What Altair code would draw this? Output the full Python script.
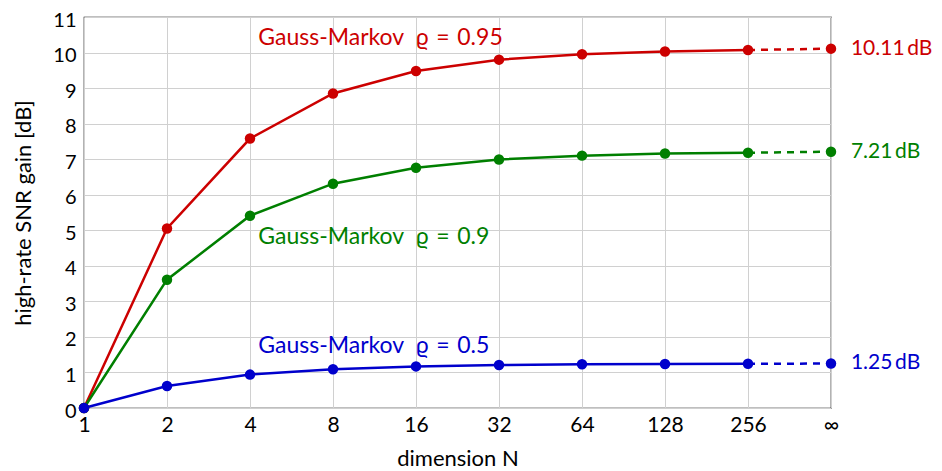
import json
import altair as alt
import pandas as pd

# ---- data ----
x_labels = ["1", "2", "4", "8", "16", "32", "64", "128", "256", "∞"]
series_names = ["rho095", "rho09", "rho05"]
series_colors = ["#cc0000", "#007f00", "#0000cc"]
gain_095 = [0.0, 5.05, 7.58, 8.85, 9.48, 9.80, 9.95, 10.03, 10.07, 10.11]
gain_09 = [0.0, 3.61, 5.41, 6.31, 6.76, 6.99, 7.10, 7.16, 7.18, 7.21]
gain_05 = [0.0, 0.62, 0.94, 1.09, 1.17, 1.21, 1.23, 1.24, 1.245, 1.25]

curve_labels = [
    "Gauss-Markov\u2002ϱ\u2004=\u20040.95",
    "Gauss-Markov\u2002ϱ\u2004=\u20040.9",
    "Gauss-Markov\u2002ϱ\u2004=\u20040.5",
]
curve_label_x = [2.1, 2.1, 2.1]
curve_label_y = [10.4, 4.82, 1.74]

end_labels = ["10.11\u2009dB", "7.21\u2009dB", "1.25\u2009dB"]
end_label_x = [9.24, 9.24, 9.24]
end_label_y = [10.11, 7.21, 1.27]

# ---- tables ----
rows = []
for name, vals in zip(series_names, [gain_095, gain_09, gain_05]):
    for i, v in enumerate(vals):
        rows.append({"series": name, "idx": i, "gain": v})
df = pd.DataFrame(rows)
n_last = len(x_labels) - 1

ann_curve = pd.DataFrame({
    "series": series_names,
    "text": curve_labels,
    "idx": curve_label_x,
    "gain": curve_label_y,
})
ann_end = pd.DataFrame({
    "series": series_names,
    "text": end_labels,
    "idx": end_label_x,
    "gain": end_label_y,
})

FONT = "Lato"
label_expr = json.dumps(x_labels) + "[datum.value]"

color = alt.Color("series:N", scale=alt.Scale(domain=series_names, range=series_colors), legend=None)

axis_style = dict(
    labelFont=FONT,
    titleFont=FONT,
    labelFontSize=21,
    titleFontSize=22,
    titleFontWeight="normal",
    labelColor="black",
    titleColor="black",
    gridColor="#d0d0d0",
    gridWidth=1,
    domain=False,
    ticks=False,
    grid=True,
    labelOverlap=False,
    labelBound=False,
    labelFlush=False,
)

x_enc = alt.X(
    "idx:Q",
    scale=alt.Scale(domain=[0, n_last], nice=False, zero=False),
    axis=alt.Axis(
        values=list(range(len(x_labels))),
        labelExpr=label_expr,
        title="dimension  N",
        labelPadding=6,
        titlePadding=13,
        **axis_style,
    ),
)
y_axis_style = dict(axis_style, labelFontSize=20)
y_enc = alt.Y(
    "gain:Q",
    scale=alt.Scale(domain=[0, 11], nice=False),
    axis=alt.Axis(
        values=list(range(12)),
        tickCount=12,
        title="high-rate SNR gain  [dB]",
        labelPadding=8,
        labelOffset=3,
        titlePadding=17,
        **y_axis_style,
    ),
)

base = alt.Chart(df)

solid = base.transform_filter(alt.datum.idx <= n_last - 1).mark_line(strokeWidth=2.5).encode(
    x=x_enc, y=y_enc, color=color, detail="series:N"
)
dashed = base.transform_filter(alt.datum.idx >= n_last - 1).mark_line(
    strokeWidth=2.5, strokeDash=[7, 6]
).encode(x=x_enc, y=y_enc, color=color, detail="series:N")
points = base.mark_circle(size=110, opacity=1).encode(x=x_enc, y=y_enc, color=color)

curve_texts = alt.Chart(ann_curve).mark_text(
    align="left", baseline="middle", fontSize=23, font=FONT
).encode(x=x_enc, y=y_enc, text="text:N", color=color)
end_texts = alt.Chart(ann_end).mark_text(
    align="left", baseline="middle", fontSize=21, font=FONT
).encode(x=x_enc, y=y_enc, text="text:N", color=color)

chart = alt.layer(solid, dashed, points, curve_texts, end_texts).properties(
    width=747,
    height=391,
    autosize=alt.AutoSizeParams(type="none"),
    padding={"left": 76, "top": 9, "right": 103, "bottom": 62},
).configure_view(
    stroke="black", strokeWidth=1.2
)

chart.save("out.html", embed_options={"renderer": "svg", "actions": False})
